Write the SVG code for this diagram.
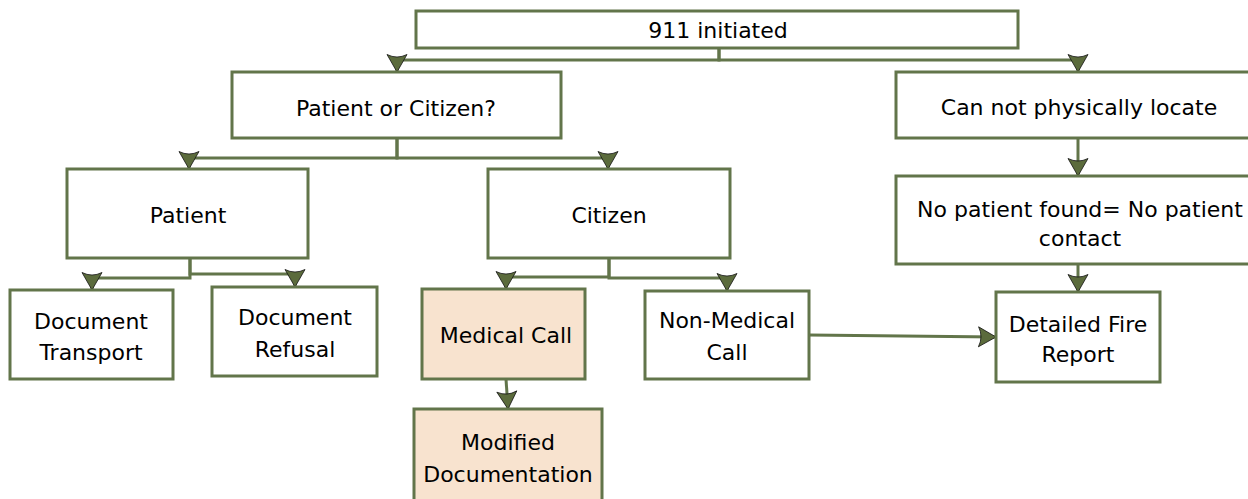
<svg xmlns="http://www.w3.org/2000/svg" width="1248" height="499" viewBox="0 0 1248 499">
<style>
.box{fill:#ffffff;stroke:#62754A;stroke-width:3}
.hl{fill:#F8E3CF}
.t{font-family:"DejaVu Sans",sans-serif;font-size:22px;fill:#000;text-anchor:middle}
.c{fill:none;stroke:#62754A;stroke-width:3}
</style>
<defs>
<marker id="ah" markerUnits="userSpaceOnUse" markerWidth="20" markerHeight="22" viewBox="-1 -1 20 22" refX="17.5" refY="10" orient="auto">
<path d="M0,0 Q5,10 0,20 L17.5,10 Z" fill="#5B6B3C" stroke="#111" stroke-width="0.8" stroke-linejoin="miter"/>
</marker>
</defs>
<rect width="1248" height="499" fill="#ffffff"/>
<g id="connectors">
<path class="c" d="M719,48 V60 H397 V72" marker-end="url(#ah)"/>
<path class="c" d="M719,48 V60 H1078 V72" marker-end="url(#ah)"/>
<path class="c" d="M397,138 V158 H189 V169" marker-end="url(#ah)"/>
<path class="c" d="M397,138 V158 H608 V169" marker-end="url(#ah)"/>
<path class="c" d="M190,258 V278 H92 V290" marker-end="url(#ah)"/>
<path class="c" d="M190,258 V274 H295 V287" marker-end="url(#ah)"/>
<path class="c" d="M609,258 V277 H506 V289" marker-end="url(#ah)"/>
<path class="c" d="M609,258 V278 H727 V291" marker-end="url(#ah)"/>
<path class="c" d="M506,379 L508,409" marker-end="url(#ah)"/>
<path class="c" d="M809,335 L996,337" marker-end="url(#ah)"/>
<path class="c" d="M1078,138 V176" marker-end="url(#ah)"/>
<path class="c" d="M1078,264 V292" marker-end="url(#ah)"/>
</g>
<g id="n911"><rect class="box" x="416" y="11" width="602" height="37"/><text class="t" x="718" y="38">911 initiated</text></g>
<g id="poc"><rect class="box" x="232" y="72" width="329" height="66"/><text class="t" x="396" y="116">Patient or Citizen?</text></g>
<g id="locate"><rect class="box" x="896" y="72" width="366" height="66"/><text class="t" x="1079" y="115">Can not physically locate</text></g>
<g id="patient"><rect class="box" x="67" y="169" width="241" height="89"/><text class="t" x="188" y="223">Patient</text></g>
<g id="citizen"><rect class="box" x="488" y="169" width="242" height="89"/><text class="t" x="609" y="223">Citizen</text></g>
<g id="nopatient"><rect class="box" x="896" y="176" width="366" height="88"/><text class="t" x="1080" y="217">No patient found= No patient</text><text class="t" x="1080" y="246">contact</text></g>
<g id="doctransport"><rect class="box" x="10" y="290" width="163" height="89"/><text class="t" x="91" y="329">Document</text><text class="t" x="91" y="360">Transport</text></g>
<g id="docrefusal"><rect class="box" x="212" y="287" width="165" height="89"/><text class="t" x="295" y="325">Document</text><text class="t" x="295" y="357">Refusal</text></g>
<g id="medical"><rect class="box hl" x="422" y="289" width="163" height="90"/><text class="t" x="506" y="343">Medical Call</text></g>
<g id="nonmedical"><rect class="box" x="645" y="291" width="164" height="88"/><text class="t" x="727" y="328">Non-Medical</text><text class="t" x="727" y="360">Call</text></g>
<g id="detailed"><rect class="box" x="996" y="292" width="164" height="90"/><text class="t" x="1078" y="332">Detailed Fire</text><text class="t" x="1078" y="362">Report</text></g>
<g id="modified"><rect class="box hl" x="414" y="409" width="188" height="100"/><text class="t" x="508" y="450">Modified</text><text class="t" x="508" y="482">Documentation</text></g>
</svg>
